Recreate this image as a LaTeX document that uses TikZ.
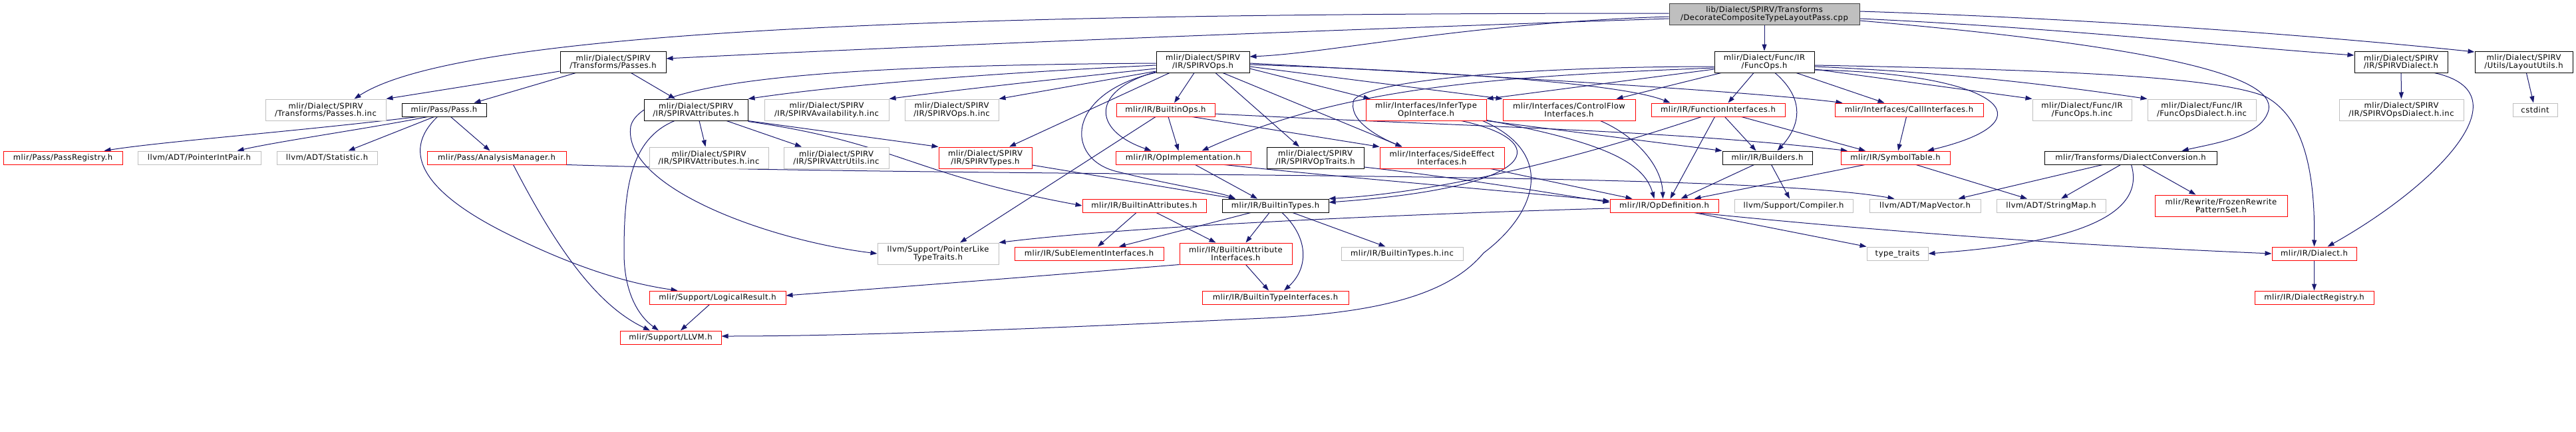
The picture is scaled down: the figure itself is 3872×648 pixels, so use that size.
\documentclass[tikz,border=0pt]{standalone}
\usepackage{fontspec}
\setmainfont{DejaVu Sans}[LetterSpace=4]
\usetikzlibrary{arrows.meta,backgrounds}
\definecolor{edgeblue}{HTML}{191970}
\definecolor{truncred}{HTML}{FF0000}
\definecolor{extgrey}{HTML}{BFBFBF}
\definecolor{rootfill}{HTML}{BFBFBF}
\definecolor{rootline}{HTML}{404040}
\tikzset{
  every node/.style={font=\fontsize{11.6}{11.7}\selectfont,text=black},
  hdr/.style={draw=black,line width=1pt,fill=white,align=center,inner sep=0pt},
  ext/.style={hdr,draw=extgrey},
  trunc/.style={hdr,draw=truncred},
  rootnode/.style={hdr,fill=rootfill,draw=rootline},
  one/.style={minimum height=20pt},
  two/.style={minimum height=32pt},
  incl/.style={-{Triangle[length=10pt,width=7pt]},line width=1pt,draw=edgeblue}
}

\begin{document}
\begin{tikzpicture}[x=1pt,y=-1pt]
  \useasboundingbox (0,0) rectangle (3872,648);

  \node[rootnode,two,minimum width=286pt] (root) at (2652,21) {lib/Dialect/SPIRV/Transforms\\/DecorateCompositeTypeLayoutPass.cpp};

  \node[hdr,two,minimum width=159pt] (passes) at (921.5,93) {mlir/Dialect/SPIRV\\/Transforms/Passes.h};
  \node[hdr,two,minimum width=140pt] (spirvops) at (1808,93) {mlir/Dialect/SPIRV\\/IR/SPIRVOps.h};
  \node[hdr,two,minimum width=150pt] (funcops) at (2652,93) {mlir/Dialect/Func/IR\\/FuncOps.h};
  \node[hdr,two,minimum width=140pt] (spirvdialect) at (3609,93) {mlir/Dialect/SPIRV\\/IR/SPIRVDialect.h};
  \node[hdr,two,minimum width=147pt] (layoututils) at (3793.5,93) {mlir/Dialect/SPIRV\\/Utils/LayoutUtils.h};

  \node[ext,two,minimum width=181pt] (passesinc) at (489.5,165) {mlir/Dialect/SPIRV\\/Transforms/Passes.h.inc};
  \node[hdr,one,minimum width=127pt] (pass) at (667.5,165) {mlir/Pass/Pass.h};
  \node[hdr,two,minimum width=156pt] (spirvattr) at (1046,165) {mlir/Dialect/SPIRV\\/IR/SPIRVAttributes.h};
  \node[ext,two,minimum width=187pt] (spirvavail) at (1242.5,165) {mlir/Dialect/SPIRV\\/IR/SPIRVAvailability.h.inc};
  \node[ext,two,minimum width=141pt] (spirvopsinc) at (1430.5,165) {mlir/Dialect/SPIRV\\/IR/SPIRVOps.h.inc};
  \node[trunc,one,minimum width=148pt] (builtinops) at (1752,165) {mlir/IR/BuiltinOps.h};
  \node[trunc,two,minimum width=181pt] (infertype) at (2143.5,165) {mlir/Interfaces/InferType\\OpInterface.h};
  \node[trunc,two,minimum width=199pt] (controlflow) at (2358.5,165) {mlir/Interfaces/ControlFlow\\Interfaces.h};
  \node[trunc,one,minimum width=201pt] (funciface) at (2582.5,165) {mlir/IR/FunctionInterfaces.h};
  \node[trunc,one,minimum width=223pt] (calliface) at (2869.5,165) {mlir/Interfaces/CallInterfaces.h};
  \node[ext,two,minimum width=149pt] (funcopsinc) at (3129.5,165) {mlir/Dialect/Func/IR\\/FuncOps.h.inc};
  \node[ext,two,minimum width=163pt] (funcopsdiainc) at (3309.5,165) {mlir/Dialect/Func/IR\\/FuncOpsDialect.h.inc};
  \node[ext,two,minimum width=187pt] (spirvopsdiainc) at (3609.5,165) {mlir/Dialect/SPIRV\\/IR/SPIRVOpsDialect.h.inc};
  \node[ext,one,minimum width=67pt] (cstdint) at (3810.5,165) {cstdint};

  \node[trunc,one,minimum width=179pt] (passreg) at (94.5,237) {mlir/Pass/PassRegistry.h};
  \node[ext,one,minimum width=185pt] (ptrintpair) at (299.5,237) {llvm/ADT/PointerIntPair.h};
  \node[ext,one,minimum width=151pt] (statistic) at (491.5,237) {llvm/ADT/Statistic.h};
  \node[trunc,one,minimum width=209pt] (analysisman) at (746.5,237) {mlir/Pass/AnalysisManager.h};
  \node[ext,two,minimum width=179pt] (spirvattrinc) at (1065.5,237) {mlir/Dialect/SPIRV\\/IR/SPIRVAttributes.h.inc};
  \node[ext,two,minimum width=158pt] (spirvattrutils) at (1257,237) {mlir/Dialect/SPIRV\\/IR/SPIRVAttrUtils.inc};
  \node[trunc,two,minimum width=140pt] (spirvtypes) at (1481,237) {mlir/Dialect/SPIRV\\/IR/SPIRVTypes.h};
  \node[trunc,one,minimum width=203pt] (opimpl) at (1778.5,237) {mlir/IR/OpImplementation.h};
  \node[hdr,two,minimum width=146pt] (spirvoptraits) at (1977,237) {mlir/Dialect/SPIRV\\/IR/SPIRVOpTraits.h};
  \node[trunc,two,minimum width=187pt] (sideeffect) at (2167.5,237) {mlir/Interfaces/SideEffect\\Interfaces.h};
  \node[hdr,one,minimum width=135pt] (builders) at (2656.5,237) {mlir/IR/Builders.h};
  \node[trunc,one,minimum width=164pt] (symboltable) at (2849,237) {mlir/IR/SymbolTable.h};
  \node[hdr,one,minimum width=259pt] (dialectconv) at (3202.5,237) {mlir/Transforms/DialectConversion.h};

  \node[trunc,one,minimum width=186pt] (builtinattrs) at (1720,309) {mlir/IR/BuiltinAttributes.h};
  \node[hdr,one,minimum width=160pt] (builtintypes) at (1917,309) {mlir/IR/BuiltinTypes.h};
  \node[trunc,one,minimum width=163pt] (opdef) at (2501.5,309) {mlir/IR/OpDefinition.h};
  \node[ext,one,minimum width=178pt] (compiler) at (2696,309) {llvm/Support/Compiler.h};
  \node[ext,one,minimum width=167pt] (mapvector) at (2893.5,309) {llvm/ADT/MapVector.h};
  \node[ext,one,minimum width=164pt] (stringmap) at (3083,309) {llvm/ADT/StringMap.h};
  \node[trunc,two,minimum width=199pt] (frozen) at (3338.5,309) {mlir/Rewrite/FrozenRewrite\\PatternSet.h};

  \node[ext,two,minimum width=182pt] (ptrlike) at (1410,381) {llvm/Support/PointerLike\\TypeTraits.h};
  \node[trunc,one,minimum width=224pt] (subelem) at (1637,381) {mlir/IR/SubElementInterfaces.h};
  \node[trunc,two,minimum width=169pt] (builtinattriface) at (1857.5,381) {mlir/IR/BuiltinAttribute\\Interfaces.h};
  \node[ext,one,minimum width=183pt] (builtintypesinc) at (2107.5,381) {mlir/IR/BuiltinTypes.h.inc};
  \node[ext,one,minimum width=92pt] (typetraits) at (2852,381) {type\_traits};
  \node[trunc,one,minimum width=127pt] (dialect) at (3478.5,381) {mlir/IR/Dialect.h};

  \node[trunc,one,minimum width=205pt] (logicalresult) at (1078.5,447) {mlir/Support/LogicalResult.h};
  \node[trunc,one,minimum width=220pt] (builtintypeiface) at (1917,447) {mlir/IR/BuiltinTypeInterfaces.h};
  \node[trunc,one,minimum width=179pt] (dialectreg) at (3478.5,447) {mlir/IR/DialectRegistry.h};

  \node[trunc,one,minimum width=152pt] (llvmh) at (1008,507) {mlir/Support/LLVM.h};

  \begin{scope}[on background layer]
  \draw[incl] (root) -- (funcops);
  \draw[incl] ([yshift=-7pt]root.west) .. controls (2000,45) and (1400,68) .. ([yshift=5pt]passes.east);
  \draw[incl] ([yshift=1pt]root.west) .. controls (1500,20) and (700,40) .. ([xshift=43pt]passesinc.north);
  \draw[incl] ([yshift=-4pt]root.west) .. controls (2200,35) and (2000,80) .. ([yshift=8pt]spirvops.east);
  \draw[incl] ([yshift=-7pt]root.east) .. controls (3100,42) and (3350,70) .. ([yshift=10pt]spirvdialect.west);
  \draw[incl] ([yshift=4pt]root.east) .. controls (3200,30) and (3550,60) .. ([yshift=15pt]layoututils.west);
  \draw[incl] ([yshift=-10pt]root.east) .. controls (3250,70) and (3420,115) .. (3410,165) .. controls (3400,205) and (3330,215) .. ([xshift=77pt]dialectconv.north);

  \draw[incl] ([yshift=-14pt]passes.west) -- (passesinc.north east);
  \draw[incl] ([xshift=-56pt]passes.south) -- ([xshift=45pt]pass.north);
  \draw[incl] ([xshift=27pt]passes.south) -- ([xshift=-31pt]spirvattr.north);

  \draw[incl] ([xshift=-40pt]pass.south) .. controls (420,200) and (250,212) .. ([xshift=62pt]passreg.north);
  \draw[incl] ([xshift=-25pt]pass.south) .. controls (560,192) and (420,212) .. ([xshift=57pt]ptrintpair.north);
  \draw[incl] ([xshift=-15pt]pass.south) -- ([xshift=32pt]statistic.north);
  \draw[incl] ([xshift=10pt]pass.south) -- ([xshift=-10pt]analysisman.north);
  \draw[incl] ([xshift=-10pt]pass.south) .. controls (600,230) and (640,290) .. (760,350) .. controls (880,410) and (960,428) .. ([xshift=-60pt]logicalresult.north);

  \draw[incl] ([xshift=25pt]analysisman.south) .. controls (840,380) and (900,460) .. ([xshift=-31pt]llvmh.north);
  \draw[incl] (analysisman.south east) .. controls (1500,268) and (2600,255) .. ([xshift=-46pt]mapvector.north);

  \draw[incl] ([xshift=5pt]spirvattr.south) -- ([xshift=-5pt]spirvattrinc.north);
  \draw[incl] ([xshift=46pt]spirvattr.south) -- ([xshift=-52pt]spirvattrutils.north);
  \draw[incl] (spirvattr.south east) -- (spirvtypes.north west);
  \draw[incl] ([yshift=-1pt]spirvattr.south east) .. controls (1350,215) and (1370,262) .. (builtinattrs.west);
  \draw[incl] ([xshift=-32pt]spirvattr.south) .. controls (945,210) and (938,290) .. (938,380) .. controls (938,440) and (960,475) .. ([xshift=-18pt]llvmh.north);

  \draw[incl] ([yshift=-2pt]spirvops.west) .. controls (1300,98) and (965,115) .. (948,190) .. controls (935,280) and (1150,360) .. (ptrlike.west);
  \draw[incl] ([yshift=-5pt]spirvops.west) .. controls (1450,112) and (1250,130) .. (spirvattr.north east);
  \draw[incl] ([yshift=-10pt]spirvops.west) .. controls (1500,128) and (1400,140) .. (spirvavail.north east);
  \draw[incl] ([yshift=-14pt]spirvops.west) -- (spirvopsinc.north east);
  \draw[incl] ([xshift=-50pt]spirvops.south) -- ([xshift=36pt]spirvtypes.north);
  \draw[incl] ([xshift=-13pt]spirvops.south) -- ([xshift=13pt]builtinops.north);
  \draw[incl] ([yshift=-15pt]spirvops.west) .. controls (1640,135) and (1640,195) .. ([xshift=-48pt]opimpl.north);
  \draw[incl] ([yshift=-16pt]spirvops.west) .. controls (1600,140) and (1600,240) .. (1680,258) .. controls (1760,278) and (1830,288) .. ([xshift=-60pt]builtintypes.north);
  \draw[incl] ([xshift=19pt]spirvops.south) -- ([xshift=-24pt]spirvoptraits.north);
  \draw[incl] ([xshift=30pt]spirvops.south) -- ([xshift=-60pt]sideeffect.north);
  \draw[incl] ([yshift=-10pt]spirvops.east) -- ([xshift=7pt]infertype.north west);
  \draw[incl] ([yshift=-7pt]spirvops.east) -- (controlflow.north west);
  \draw[incl] ([yshift=-4pt]spirvops.east) .. controls (2250,110) and (2450,130) .. ([xshift=-72pt]funciface.north);
  \draw[incl] ([yshift=-2pt]spirvops.east) .. controls (2350,120) and (2650,140) .. ([xshift=-100pt]calliface.north);

  \draw[incl] ([xshift=-16pt]funcops.south) -- ([xshift=15pt]funciface.north);
  \draw[incl] ([xshift=16pt]funcops.south) .. controls (2715,150) and (2705,190) .. ([xshift=15pt]builders.north);
  \draw[incl] ([xshift=48pt]funcops.south) -- ([xshift=-37pt]calliface.north);
  \draw[incl] ([yshift=-12pt]funcops.east) .. controls (3000,110) and (3090,180) .. ([xshift=48pt]symboltable.north);
  \draw[incl] ([yshift=-11pt]funcops.east) -- (funcopsinc.north west);
  \draw[incl] ([yshift=-7pt]funcops.east) .. controls (2950,110) and (3100,130) .. (funcopsdiainc.north west);
  \draw[incl] ([yshift=-5pt]funcops.east) .. controls (3100,105) and (3330,115) .. (3405,145) .. controls (3460,175) and (3480,250) .. (dialect.north);
  \draw[incl] ([xshift=-65pt]funcops.south) -- ([xshift=71pt]controlflow.north);
  \draw[incl] ([yshift=-11pt]funcops.west) -- (infertype.north east);
  \draw[incl] ([yshift=-7pt]funcops.west) .. controls (2300,100) and (2060,120) .. (2035,150) .. controls (2025,180) and (2070,205) .. ([xshift=-60pt]sideeffect.north);
  \draw[incl] ([yshift=-9pt]funcops.west) .. controls (2250,115) and (2020,130) .. ([xshift=28pt]opimpl.north);

  \draw[incl] (spirvdialect) -- (spirvopsdiainc);
  \draw[incl] ([xshift=50pt]spirvdialect.south) .. controls (3800,140) and (3660,280) .. ([xshift=20pt]dialect.north);
  \draw[incl] (layoututils) -- (cstdint);

  \draw[incl] ([xshift=-42pt]dialectconv.south) -- ([xshift=50pt]mapvector.north);
  \draw[incl] ([xshift=-15pt]dialectconv.south) -- ([xshift=15pt]stringmap.north);
  \draw[incl] ([xshift=1pt]dialectconv.south) .. controls (3230,335) and (3080,368) .. (typetraits.east);
  \draw[incl] ([xshift=18pt]dialectconv.south) -- ([xshift=-38pt]frozen.north);

  \draw[incl] ([xshift=4pt]builtinops.south) -- ([xshift=-7pt]opimpl.north);
  \draw[incl] ([xshift=-15pt]builtinops.south) -- ([xshift=33pt]ptrlike.north);
  \draw[incl] ([xshift=40pt]builtinops.south) -- (sideeffect.north west);
  \draw[incl] ([yshift=-6pt]builtinops.east) .. controls (2200,190) and (2500,195) .. ([xshift=-72pt]symboltable.north);

  \draw[incl] ([xshift=53pt]infertype.south) .. controls (2330,210) and (2330,280) .. ([yshift=5pt]builtintypes.east);
  \draw[incl] ([xshift=85pt]infertype.south) .. controls (2340,230) and (2310,320) .. (2230,380) .. controls (2180,440) and (2080,470) .. (1900,478) .. controls (1600,492) and (1300,505) .. ([yshift=2pt]llvmh.east);
  \draw[incl] (infertype.south east) -- (builders.north west);
  \draw[incl] ([yshift=1pt]infertype.south east) .. controls (2400,212) and (2470,240) .. ([xshift=-15pt]opdef.north);

  \draw[incl] ([xshift=47pt]controlflow.south) .. controls (2460,205) and (2498,250) .. ([xshift=-2pt]opdef.north);

  \draw[incl] ([xshift=-25pt]funciface.south) .. controls (2350,245) and (2150,290) .. (builtintypes.north east);
  \draw[incl] ([xshift=-5pt]funciface.south) -- ([xshift=9pt]opdef.north);
  \draw[incl] ([xshift=10pt]funciface.south) -- ([xshift=-17pt]builders.north);
  \draw[incl] ([xshift=35pt]funciface.south) -- ([xshift=-45pt]symboltable.north);
  \draw[incl] ([xshift=-4pt]calliface.south) -- ([xshift=4pt]symboltable.north);

  \draw[incl] ([yshift=-11pt]spirvtypes.east) -- ([xshift=-60pt]builtintypes.north);
  \draw[incl] ([xshift=18pt]opimpl.south) -- ([xshift=-27pt]builtintypes.north);
  \draw[incl] ([xshift=62pt]opimpl.south) .. controls (2000,265) and (2300,290) .. ([yshift=7pt]opdef.west);
  \draw[incl] ([yshift=-14pt]spirvoptraits.east) .. controls (2200,268) and (2330,290) .. ([yshift=5pt]opdef.west);
  \draw[incl] ([xshift=73pt]sideeffect.south) -- ([xshift=-48pt]opdef.north);
  \draw[incl] ([xshift=-20pt]builders.south) -- ([xshift=25pt]opdef.north);
  \draw[incl] ([xshift=6pt]builders.south) -- ([xshift=-6pt]compiler.north);
  \draw[incl] ([xshift=-46pt]symboltable.south) -- ([xshift=45pt]opdef.north);
  \draw[incl] ([xshift=31pt]symboltable.south) -- ([xshift=-36pt]stringmap.north);

  \draw[incl] ([xshift=45pt]opdef.south) -- (typetraits.north west);
  \draw[incl] ([xshift=48pt]opdef.south) .. controls (2900,355) and (3200,372) .. (dialect.west);
  \draw[incl] ([yshift=-4pt]opdef.west) .. controls (2100,322) and (1700,340) .. (ptrlike.north east);

  \draw[incl] ([xshift=-37pt]builtintypes.south) -- ([xshift=45pt]subelem.north);
  \draw[incl] ([xshift=-9pt]builtintypes.south) -- ([xshift=15pt]builtinattriface.north);
  \draw[incl] ([xshift=10pt]builtintypes.south) .. controls (1970,360) and (1965,405) .. ([xshift=13pt]builtintypeiface.north);
  \draw[incl] ([xshift=26pt]builtintypes.south) -- ([xshift=-25pt]builtintypesinc.north);
  \draw[incl] ([xshift=-12pt]builtinattrs.south) -- ([xshift=13pt]subelem.north);
  \draw[incl] ([xshift=18pt]builtinattrs.south) -- ([xshift=-30pt]builtinattriface.north);
  \draw[incl] ([xshift=15pt]builtinattriface.south) -- ([xshift=-10pt]builtintypeiface.north);
  \draw[incl] (builtinattriface.south west) .. controls (1500,420) and (1300,435) .. ([yshift=3pt]logicalresult.east);
  \draw[incl] ([xshift=-12pt]logicalresult.south) -- ([xshift=15pt]llvmh.north);
  \draw[incl] (dialect) -- (dialectreg);
  \end{scope}
\end{tikzpicture}
\end{document}
